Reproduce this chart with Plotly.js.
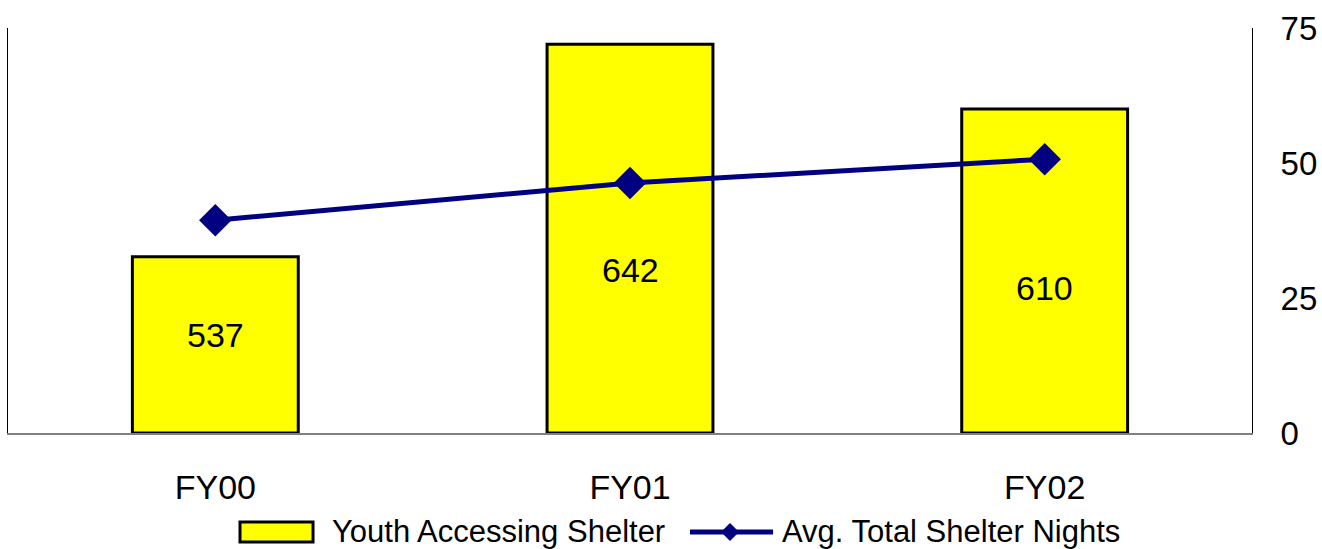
<!DOCTYPE html>
<html>
<head>
<meta charset="utf-8">
<script src="https://cdn.plot.ly/plotly-3.0.1.min.js"></script>
<style>html,body{margin:0;padding:0;background:#fff;}#chart{width:1322px;height:549px;}</style>
</head>
<body>
<div id="chart"></div>
<script>
const categories = ['FY00', 'FY01', 'FY02'];
const youthAccessing = [537, 642, 610];
const avgNights = [39.4, 46.3, 50.7];
const seriesNames = ['Youth Accessing Shelter', 'Avg. Total Shelter Nights'];
const rightTicks = [0, 25, 50, 75];
const leftRange = [450, 650];
const rightRange = [0, 75];
// vertical placement of the bar value labels (paper fraction)
const labelPos = [0.242, 0.4025, 0.358];

const FONT = 'Liberation Sans, Arial, sans-serif';
const NAVY = '#000080';
const YELLOW = '#FFFF00';

const barTrace = {
  type: 'bar',
  name: seriesNames[0],
  x: categories,
  y: youthAccessing.map(v => v - leftRange[0]),
  base: leftRange[0],
  width: 0.4,
  cliponaxis: false,
  marker: { color: YELLOW, line: { color: '#000', width: 3 } },
  hoverinfo: 'skip'
};

const lineTrace = {
  type: 'scatter',
  mode: 'lines+markers',
  name: seriesNames[1],
  x: categories,
  y: avgNights,
  yaxis: 'y2',
  line: { color: NAVY, width: 5 },
  marker: { symbol: 'diamond', size: 25, color: NAVY },
  cliponaxis: false
};

const annotations = categories.map((c, i) => ({
  x: c, xref: 'x', y: labelPos[i], yref: 'paper',
  text: String(youthAccessing[i]), showarrow: false,
  xanchor: 'center', yanchor: 'middle',
  font: { family: FONT, size: 34, color: '#000' }
}));

annotations.push({
  x: 0.2588, xref: 'paper', y: -0.242, yref: 'paper',
  text: seriesNames[0], showarrow: false, xanchor: 'left', yanchor: 'middle',
  font: { family: FONT, size: 31, color: '#000' }
});
annotations.push({
  x: 0.6206, xref: 'paper', y: -0.242, yref: 'paper',
  text: seriesNames[1], showarrow: false, xanchor: 'left', yanchor: 'middle',
  font: { family: FONT, size: 31, color: '#000' }
});

const shapes = [
  { type: 'rect', xref: 'paper', yref: 'paper', x0: 0.1865, x1: 0.2452, y0: -0.2691, y1: -0.2198,
    fillcolor: YELLOW, line: { color: '#000', width: 3 } },
  { type: 'line', xref: 'paper', yref: 'paper', x0: 0.5482, x1: 0.6150, y0: -0.2444, y1: -0.2444,
    line: { color: NAVY, width: 5 } },
  { type: 'path', xref: 'paper', yref: 'paper', xsizemode: 'pixel', ysizemode: 'pixel',
    xanchor: 0.5804, yanchor: -0.2444, path: 'M-9,0 L0,9 L9,0 L0,-9 Z',
    fillcolor: NAVY, line: { color: NAVY, width: 0 } }
];

const layout = {
  width: 1322, height: 549,
  margin: { l: 8, r: 70, t: 28, b: 116 },
  paper_bgcolor: '#fff', plot_bgcolor: '#fff',
  showlegend: false,
  font: { family: FONT, color: '#000' },
  xaxis: {
    type: 'category', range: [-0.5, 2.5],
    showline: true, linecolor: '#808080', linewidth: 1.5,
    ticks: '', showgrid: false, zeroline: false,
    tickfont: { family: FONT, size: 34, color: '#000' },
    ticklabelstandoff: 24, layer: 'below traces'
  },
  yaxis: {
    range: leftRange, showline: true, linecolor: '#000', linewidth: 1,
    showticklabels: false, ticks: '', showgrid: false, zeroline: false
  },
  yaxis2: {
    overlaying: 'y', side: 'right', range: rightRange, tickvals: rightTicks,
    showline: true, linecolor: '#000', linewidth: 1,
    ticks: '', showgrid: false, zeroline: false,
    tickfont: { family: FONT, size: 33, color: '#000' },
    ticklabelstandoff: 21
  },
  annotations: annotations,
  shapes: shapes
};

Plotly.newPlot('chart', [barTrace, lineTrace], layout, { staticPlot: true });
</script>
</body>
</html>
